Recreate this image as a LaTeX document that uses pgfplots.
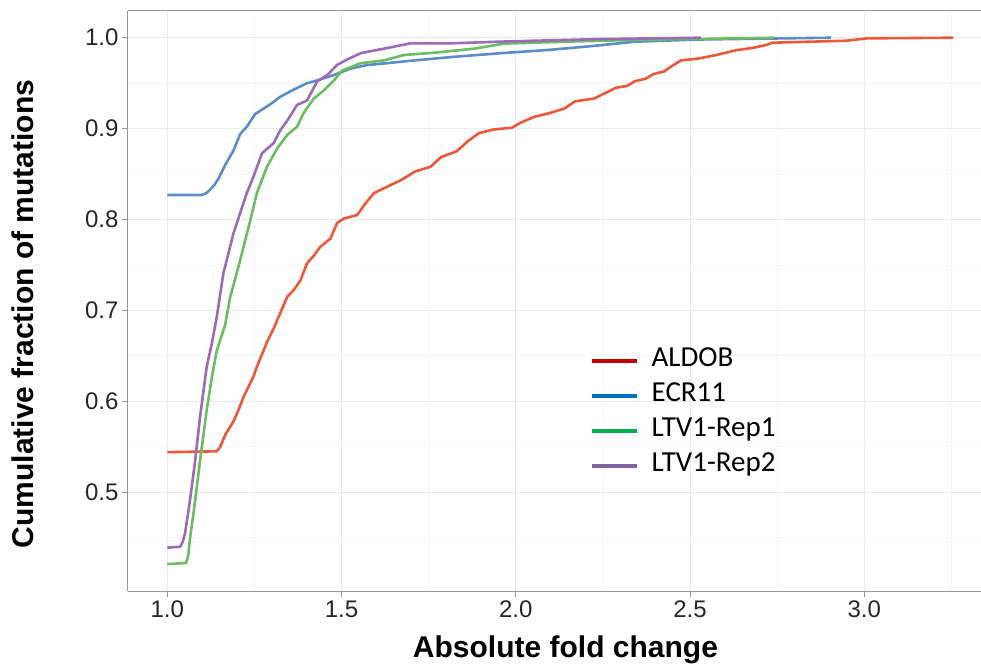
\documentclass[border=0pt]{standalone}
\usepackage{pgfplots}
\pgfplotsset{compat=1.18}
\usepackage{fontspec}
\setmainfont{Liberation Sans}
\newfontfamily\legendfont{Carlito}

\definecolor{cALDOB}{RGB}{238,88,58}
\definecolor{cECR}{RGB}{92,141,201}
\definecolor{cRepA}{RGB}{106,189,96}
\definecolor{cRepB}{RGB}{156,106,182}
\definecolor{lALDOB}{HTML}{C00000}
\definecolor{lECR}{HTML}{0070C0}
\definecolor{lRepA}{HTML}{00B050}
\definecolor{lRepB}{HTML}{8064A2}
\definecolor{framegray}{RGB}{150,150,150}
\definecolor{gridmajor}{RGB}{234,234,234}
\definecolor{gridminor}{RGB}{245,245,245}

\begin{document}
\begin{tikzpicture}
\useasboundingbox (-128pt,-76pt) rectangle (853pt,591pt);
\begin{axis}[
  at={(0pt,0pt)}, anchor=south west,
  width=853pt, height=580pt, scale only axis,
  xmin=0.8872, xmax=3.3348,
  ymin=0.3913, ymax=1.0294,
  axis x line*=box, axis y line*=left,
  xtick pos=bottom, ytick pos=left,
  xtick={1,1.5,2,2.5,3},
  ytick={0.5,0.6,0.7,0.8,0.9,1.0},
  minor xtick={1.25,1.75,2.25,2.75,3.25},
  minor ytick={0.45,0.55,0.65,0.75,0.85,0.95},
  tick align=outside,
  major tick length=6pt, minor tick length=0pt,
  tick style={framegray, line width=1pt},
  axis line style={framegray, line width=1pt},
  grid=both,
  major grid style={gridmajor, line width=1pt},
  minor grid style={gridminor, line width=0.8pt},
  /pgf/number format/assume math mode=true,
  /pgf/number format/.cd, fixed, fixed zerofill, precision=1, /pgfplots/.cd,
  ticklabel style={font=\fontsize{24}{28}\selectfont, text=black!85},
  xlabel={Absolute fold change},
  ylabel={Cumulative fraction of mutations},
  xlabel style={at={(rel axis cs:0.5129,-0.1155)}, anchor=base,
    font=\bfseries\fontsize{30}{36}\selectfont},
  ylabel style={at={(rel axis cs:-0.1102,0.4776)}, anchor=base,
    font=\bfseries\fontsize{30}{36}\selectfont},
  legend image code/.code={\draw[#1] (0pt,-2pt) -- (45pt,-2pt); \path (57pt,0pt);},
  legend cell align=left,
  legend style={at={(rel axis cs:0.5416,0.425)}, anchor=north west,
    draw=none, fill=none, inner sep=0pt, row sep=6pt,
    font=\legendfont\fontsize{29}{35}\selectfont,
    nodes={inner sep=0pt, text height=22pt, text depth=7pt}},
  every axis plot/.append style={line width=2.6pt, line join=round},
]
% ALDOB
\addplot[cALDOB, forget plot] coordinates {
(1.0,0.544) (1.142,0.545) (1.152,0.550) (1.166,0.563) (1.19,0.578) (1.208,0.594)
(1.219,0.605) (1.247,0.627) (1.257,0.638) (1.286,0.665) (1.305,0.680) (1.324,0.697)
(1.344,0.715) (1.362,0.722) (1.382,0.733) (1.401,0.752) (1.420,0.760) (1.439,0.770)
(1.468,0.779) (1.487,0.796) (1.506,0.801) (1.545,0.805) (1.569,0.818) (1.593,0.829)
(1.641,0.838) (1.669,0.843) (1.712,0.853) (1.755,0.858) (1.787,0.869) (1.830,0.875)
(1.862,0.886) (1.894,0.895) (1.936,0.899) (1.989,0.901) (2.011,0.906) (2.053,0.913)
(2.096,0.917) (2.139,0.922) (2.170,0.930) (2.224,0.933) (2.256,0.939) (2.288,0.945)
(2.320,0.947) (2.341,0.952) (2.373,0.955) (2.395,0.960) (2.426,0.963) (2.448,0.969)
(2.474,0.975) (2.522,0.977) (2.576,0.981) (2.629,0.986) (2.682,0.989) (2.719,0.992)
(2.736,0.9945) (2.842,0.9956) (2.949,0.9967) (3.007,0.9993) (3.255,1.0)
};
% ECR11
\addplot[cECR, forget plot] coordinates {
(1.0,0.827) (1.099,0.827) (1.112,0.829) (1.123,0.833) (1.135,0.838) (1.147,0.845)
(1.166,0.860) (1.190,0.876) (1.209,0.894) (1.228,0.902) (1.252,0.916) (1.276,0.922)
(1.300,0.928) (1.324,0.935) (1.363,0.943) (1.401,0.950) (1.430,0.953) (1.478,0.959)
(1.526,0.966) (1.574,0.970) (1.631,0.972) (1.708,0.975) (1.823,0.979) (1.957,0.983)
(2.092,0.9865) (2.224,0.991) (2.341,0.9956) (2.522,0.998) (2.905,1.0)
};
% LTV1-Rep1
\addplot[cRepA, forget plot] coordinates {
(1.0,0.421) (1.054,0.422) (1.060,0.430) (1.065,0.449) (1.080,0.491) (1.094,0.535)
(1.113,0.590) (1.128,0.627) (1.142,0.656) (1.166,0.684) (1.180,0.714) (1.209,0.755)
(1.238,0.799) (1.257,0.829) (1.286,0.858) (1.315,0.878) (1.344,0.893) (1.372,0.902)
(1.391,0.917) (1.420,0.933) (1.449,0.942) (1.478,0.953) (1.502,0.964) (1.555,0.972)
(1.622,0.975) (1.679,0.981) (1.766,0.9835) (1.881,0.988) (1.967,0.9935) (2.140,0.9956)
(2.332,0.9975) (2.741,1.0)
};
% LTV1-Rep2
\addplot[cRepB, forget plot] coordinates {
(1.0,0.439) (1.037,0.440) (1.045,0.446) (1.051,0.455) (1.065,0.491) (1.080,0.535)
(1.094,0.583) (1.113,0.638) (1.128,0.664) (1.142,0.693) (1.161,0.741) (1.190,0.785)
(1.209,0.807) (1.228,0.829) (1.247,0.847) (1.272,0.873) (1.305,0.884) (1.324,0.898)
(1.348,0.911) (1.372,0.926) (1.401,0.931) (1.430,0.952) (1.459,0.959) (1.487,0.970)
(1.516,0.976) (1.555,0.983) (1.622,0.988) (1.698,0.9938) (1.814,0.9938) (1.948,0.9956)
(2.236,0.9985) (2.531,1.0)
};
\addlegendimage{draw=lALDOB, line width=4.5pt}
\addlegendentry{ALDOB}
\addlegendimage{draw=lECR, line width=4.5pt}
\addlegendentry{ECR11}
\addlegendimage{draw=lRepA, line width=4.5pt}
\addlegendentry{LTV1-Rep1}
\addlegendimage{draw=lRepB, line width=4.5pt}
\addlegendentry{LTV1-Rep2}
\end{axis}
\end{tikzpicture}
\end{document}
